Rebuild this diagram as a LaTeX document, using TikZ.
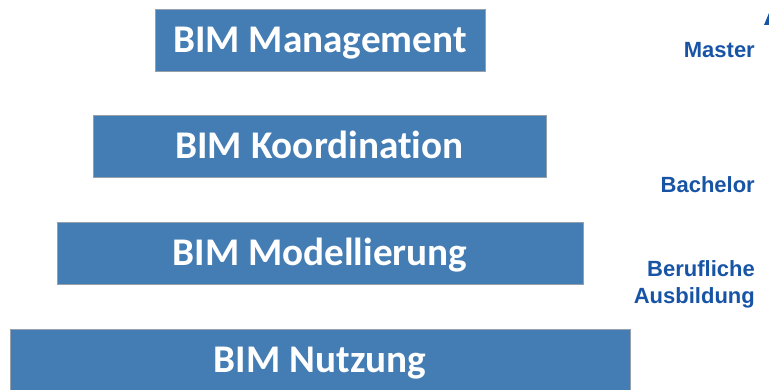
\documentclass[tikz,border=0pt]{standalone}
\usepackage{fontspec}
\newfontfamily\boxfont[Ligatures=NoCommon]{Carlito}
\newfontfamily\labelfont{Liberation Sans}
\usetikzlibrary{positioning}
\definecolor{layerblue}{RGB}{68,125,180}
\definecolor{layerborder}{RGB}{150,160,170}
\definecolor{degreeblue}{RGB}{24,84,165}

\begin{document}
\begin{tikzpicture}[
    x=1pt, y=-1pt,
    layer/.style={draw=layerborder, line width=0.8pt, fill=layerblue, minimum height=62pt, inner sep=0pt,
        text height=25pt, text depth=0pt,
        text=white, font=\boxfont\bfseries\fontsize{39.2}{42}\selectfont},
    degree/.style={anchor=east, align=right, text=degreeblue, inner sep=0pt,
        font=\labelfont\bfseries\fontsize{22}{27}\selectfont},
]
\useasboundingbox (0,0) rectangle (769,390);
\clip (0,0) rectangle (769,390);

% Pyramid levels, top to bottom
\node[layer, minimum width=330pt] (mgmt) at (320,40) {BIM Management};
\node[layer, minimum width=453pt] (koord) at (319.5,146.5) {BIM Koordination};
\node[layer, minimum width=526pt] (model) at (320,253.5) {BIM Modellierung};
\node[layer, minimum width=620pt] (nutz) at (320,360) {BIM Nutzung};

% Degree labels on the right
\node[degree] (master) at (755,50) {Master};
\node[degree] (bachelor) at (755,185) {Bachelor};
\node[degree] (beruf) at (755,284.5) {Berufliche\\Ausbildung};

% Arrow tip, cut by the edge
\fill[degreeblue] (769,13) -- (775,25) -- (764,25) -- cycle;

\end{tikzpicture}
\end{document}
